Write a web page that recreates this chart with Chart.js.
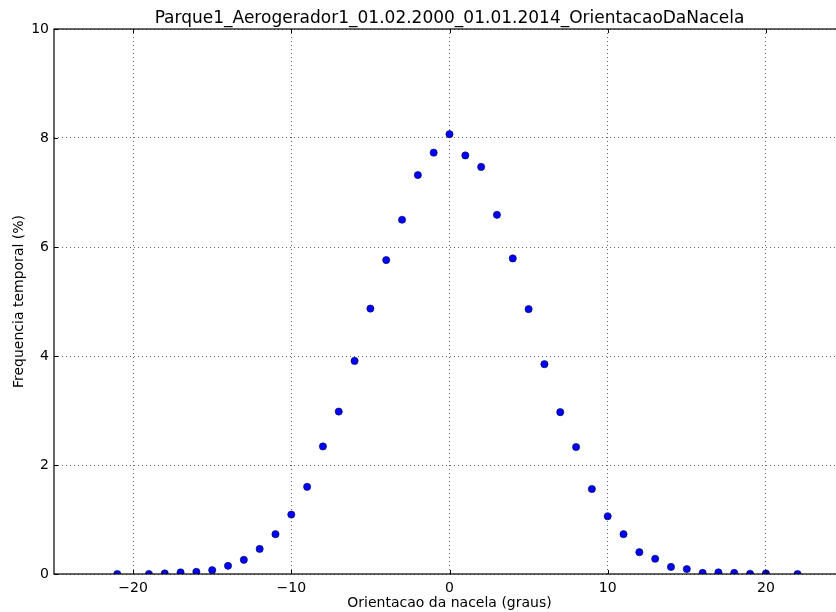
<!DOCTYPE html>
<html>
<head>
<meta charset="utf-8">
<script src="https://cdn.jsdelivr.net/npm/chart.js@4/dist/chart.umd.min.js"></script>
<style>
  html, body { margin: 0; padding: 0; background: #fff; overflow: hidden; }
  #wrap { width: 836px; height: 612px; overflow: hidden; }
  #wrap canvas { display: block; }
</style>
</head>
<body>
<div id="wrap"><canvas id="grafico" width="870" height="612"></canvas></div>
<script>
// dados
const orientacao = [-21, -19, -18, -17, -16, -15, -14, -13, -12, -11, -10, -9, -8, -7, -6, -5, -4, -3, -2, -1,
                    0, 1, 2, 3, 4, 5, 6, 7, 8, 9, 10, 11, 12, 13, 14, 15, 16, 17, 18, 19, 20, 22];
const frequencia = [0.0, 0.0, 0.01, 0.03, 0.04, 0.07, 0.15, 0.26, 0.46, 0.73, 1.09, 1.60, 2.34, 2.98, 3.91, 4.87, 5.76, 6.50, 7.32, 7.73,
                    8.07, 7.68, 7.47, 6.59, 5.79, 4.86, 3.85, 2.97, 2.33, 1.56, 1.06, 0.73, 0.40, 0.28, 0.13, 0.09, 0.02, 0.03, 0.02, 0.005, 0.01, 0.0];
const xTicks = [-20, -10, 0, 10, 20];
const yTicks = [0, 2, 4, 6, 8, 10];

const titulo = 'Parque1_Aerogerador1_01.02.2000_01.01.2014_OrientacaoDaNacela';
const fonte = "'DejaVu Sans', sans-serif";

// moldura e marcas para dentro, estilo matplotlib
const moldura = {
    id: 'moldura',
    afterDraw(chart) {
        const { ctx, chartArea: a, scales } = chart;
        ctx.save();
        ctx.strokeStyle = '#000';
        ctx.lineWidth = 1;
        xTicks.forEach(v => {
            const px = Math.round(scales.x.getPixelForValue(v)) + 0.5;
            ctx.beginPath();
            ctx.moveTo(px, a.bottom); ctx.lineTo(px, a.bottom - 4);
            ctx.moveTo(px, a.top); ctx.lineTo(px, a.top + 4);
            ctx.stroke();
        });
        yTicks.forEach(v => {
            const py = Math.round(scales.y.getPixelForValue(v)) + 0.5;
            ctx.beginPath();
            ctx.moveTo(a.left, py); ctx.lineTo(a.left + 4, py);
            ctx.moveTo(a.right, py); ctx.lineTo(a.right - 4, py);
            ctx.stroke();
        });
        ctx.lineWidth = 1.2;
        ctx.strokeRect(a.left, a.top, a.right - a.left, a.bottom - a.top);
        ctx.restore();
    }
};

const ctx = document.getElementById('grafico').getContext('2d');
new Chart(ctx, {
    type: 'scatter',
    data: {
        datasets: [{
            data: orientacao.map((x, i) => ({ x: x, y: frequencia[i] })),
            backgroundColor: '#0000ff',
            borderColor: '#00003a',
            borderWidth: 0.6,
            pointRadius: 3.6
        }]
    },
    options: {
        responsive: false,
        animation: false,
        layout: { padding: { left: 0, right: 25, top: 0, bottom: 0 } },
        plugins: {
            legend: { display: false },
            tooltip: { enabled: false },
            title: {
                display: true,
                text: titulo,
                fullSize: false,
                color: '#000',
                font: { family: fonte, size: 17, weight: 'normal', lineHeight: 1.2 },
                padding: { top: 8, bottom: 0.6 }
            }
        },
        scales: {
            x: {
                type: 'linear',
                min: -25,
                max: 25,
                afterBuildTicks: s => { s.ticks = xTicks.map(v => ({ value: v })); },
                afterFit: s => { s.height = 38; },
                grid: { color: '#666', drawTicks: false, lineWidth: 1 },
                border: { display: false, dash: [1, 3] },
                ticks: {
                    color: '#000',
                    padding: 6,
                    font: { family: fonte, size: 14 },
                    callback: v => String(v).replace('-', '\u2212')
                },
                title: {
                    display: true,
                    text: 'Orientacao da nacela (graus)',
                    color: '#000',
                    font: { family: fonte, size: 14 },
                    padding: { top: 0, bottom: 0 }
                }
            },
            y: {
                min: 0,
                max: 10,
                afterBuildTicks: s => { s.ticks = yTicks.map(v => ({ value: v })); },
                afterFit: s => { s.width = 54; },
                grid: { color: '#666', drawTicks: false, lineWidth: 1 },
                border: { display: false, dash: [1, 3] },
                ticks: {
                    color: '#000',
                    padding: 5,
                    font: { family: fonte, size: 14 }
                },
                title: {
                    display: true,
                    text: 'Frequencia temporal (%)',
                    color: '#000',
                    font: { family: fonte, size: 14 },
                    padding: { top: 11, bottom: 0 }
                }
            }
        }
    },
    plugins: [moldura]
});
</script>
</body>
</html>
